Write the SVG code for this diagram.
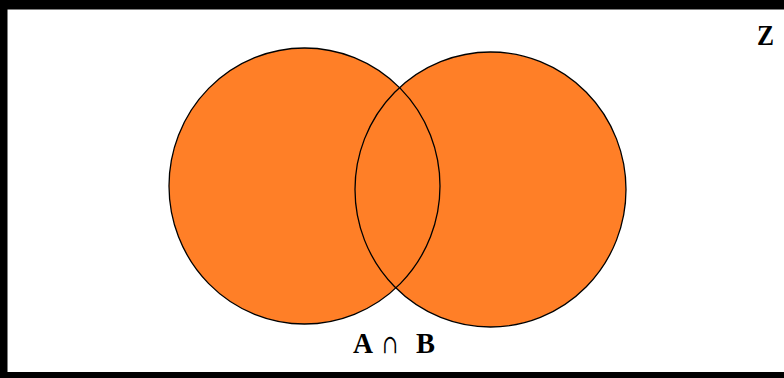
<svg xmlns="http://www.w3.org/2000/svg" width="784" height="378" viewBox="0 0 784 378">
  <style>
    .set { fill: #FF7F27; stroke: none; }
    .outline { fill: none; stroke: #000000; stroke-width: 1.3; }
    .frame { fill: #000000; }
    .lbl { font-family: "Liberation Serif", "Times New Roman", serif; font-weight: bold; fill: #000000; }
    .op { font-family: "DejaVu Serif", "Liberation Serif", serif; font-weight: normal; fill: #000000; }
  </style>
  <rect x="0" y="0" width="784" height="378" fill="#ffffff"/>
  <g id="frame">
    <rect class="frame" x="0" y="0" width="784" height="9.5"/>
    <rect class="frame" x="0" y="0" width="7.5" height="378"/>
    <rect class="frame" x="0" y="372" width="784" height="6"/>
  </g>
  <g id="setA">
    <ellipse class="set" cx="304.5" cy="186" rx="135.5" ry="138"/>
  </g>
  <g id="setB">
    <ellipse class="set" cx="490.5" cy="189.5" rx="135.5" ry="137.5"/>
  </g>
  <g id="outlines">
    <ellipse class="outline" cx="304.5" cy="186" rx="135.5" ry="138"/>
    <ellipse class="outline" cx="490.5" cy="189.5" rx="135.5" ry="137.5"/>
  </g>
  <g id="label-Z">
    <text class="lbl" x="757" y="45" font-size="30" textLength="17" lengthAdjust="spacingAndGlyphs">Z</text>
  </g>
  <g id="label-AB">
    <text class="lbl" x="353" y="353" font-size="30" textLength="20" lengthAdjust="spacingAndGlyphs">A</text>
    <text class="op" x="382" y="353" font-size="26" textLength="16" lengthAdjust="spacingAndGlyphs">∩</text>
    <text class="lbl" x="416" y="353" font-size="30" textLength="19" lengthAdjust="spacingAndGlyphs">B</text>
  </g>
</svg>
